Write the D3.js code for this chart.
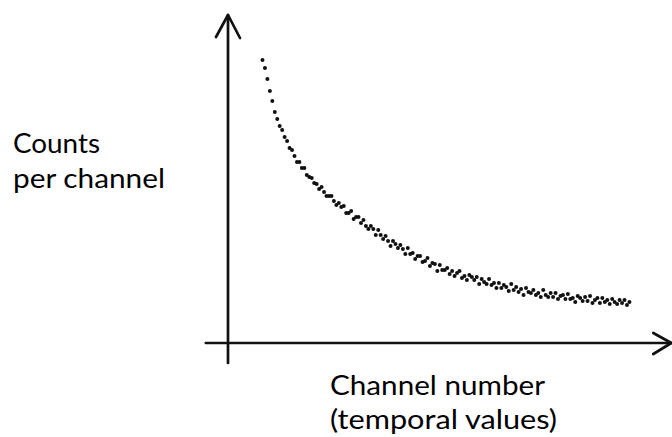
<!DOCTYPE html>
<html>
<head>
<meta charset="utf-8">
<script src="https://cdn.jsdelivr.net/npm/d3@7"></script>
<style>
  body { margin: 0; background: #fff; }
  svg { display: block; }
</style>
</head>
<body>
<div id="chart"></div>
<script>
// channel numbers where the decay starts and ends
const firstChannel = 14;

// counts per channel
const counts = [
  283, 275, 264, 252, 242, 231, 224, 217, 213, 206,
  202, 195, 193, 187, 181, 181, 175, 175, 168, 166,
  165, 160, 159, 154, 156, 151, 147, 147, 147, 142,
  138, 140, 136, 137, 130, 130, 132, 124, 126, 126,
  120, 123, 117, 114, 117, 114, 108, 113, 108, 104,
  107, 102, 97, 102, 99, 95, 98, 94, 89, 95,
  89, 90, 84, 87, 87, 81, 82, 85, 77, 80,
  79, 72, 78, 73, 73, 75, 69, 72, 67, 70,
  72, 65, 67, 63, 68, 66, 63, 66, 59, 64,
  61, 59, 64, 58, 60, 55, 60, 55, 58, 56,
  52, 59, 53, 56, 51, 54, 48, 55, 51, 50,
  53, 48, 50, 46, 53, 48, 46, 50, 46, 50,
  44, 47, 48, 44, 49, 44, 45, 41, 47, 45,
  42, 46, 42, 47, 40, 43, 45, 40, 45, 41,
  43, 39, 44, 41, 39, 43, 40, 43, 38, 41
];

const yLabelLines = ["Counts", "per channel"];
const xLabelLines = ["Channel number", "(temporal values)"];

const data = counts.map((c, i) => ({ channel: firstChannel + i, count: c }));

const width = 672;
const height = 437;

const svg = d3.select("#chart")
  .append("svg")
  .attr("width", width)
  .attr("height", height);

const x = d3.scaleLinear()
  .domain([0, 180])
  .range([228, 671.3]);

const y = d3.scaleLinear()
  .domain([0, 300])
  .range([343, 43]);

const ink = "#111";

// axes with hand drawn style arrows
const axes = svg.append("g")
  .attr("fill", "none")
  .attr("stroke", ink)
  .attr("stroke-width", 2.7)
  .attr("stroke-linecap", "round")
  .attr("stroke-linejoin", "round");

// y axis
axes.append("line")
  .attr("x1", x(0)).attr("y1", y(-20))
  .attr("x2", x(0)).attr("y2", y(328));
axes.append("path")
  .attr("d", `M${x(0) - 12},${y(328) + 22} L${x(0)},${y(328)} L${x(0) + 12},${y(328) + 23}`);

// x axis
axes.append("line")
  .attr("x1", x(-9)).attr("y1", y(0))
  .attr("x2", x(180)).attr("y2", y(0));
axes.append("path")
  .attr("d", `M${x(180) - 18},${y(0) - 10} L${x(180)},${y(0)} L${x(180) - 18},${y(0) + 11}`);

// the data dots
svg.append("g")
  .selectAll("circle")
  .data(data)
  .enter()
  .append("circle")
  .attr("cx", d => x(d.channel))
  .attr("cy", d => y(d.count))
  .attr("r", 2)
  .attr("fill", ink);

// labels
const font = "Lato, 'Noto Sans', sans-serif";

const yWidths = [87, 152];
svg.append("g")
  .selectAll("text")
  .data(yLabelLines)
  .enter()
  .append("text")
  .attr("x", 13)
  .attr("y", (d, i) => 153 + i * 35)
  .attr("font-family", font)
  .attr("font-size", "27px")
  .attr("fill", "#000")
  .attr("textLength", (d, i) => yWidths[i])
  .attr("lengthAdjust", "spacingAndGlyphs")
  .text(d => d);

const xWidths = [215, 227];
svg.append("g")
  .selectAll("text")
  .data(xLabelLines)
  .enter()
  .append("text")
  .attr("x", 330)
  .attr("y", (d, i) => 395 + i * 34)
  .attr("font-family", font)
  .attr("font-size", "27px")
  .attr("fill", "#000")
  .attr("textLength", (d, i) => xWidths[i])
  .attr("lengthAdjust", "spacingAndGlyphs")
  .text(d => d);
</script>
</body>
</html>
